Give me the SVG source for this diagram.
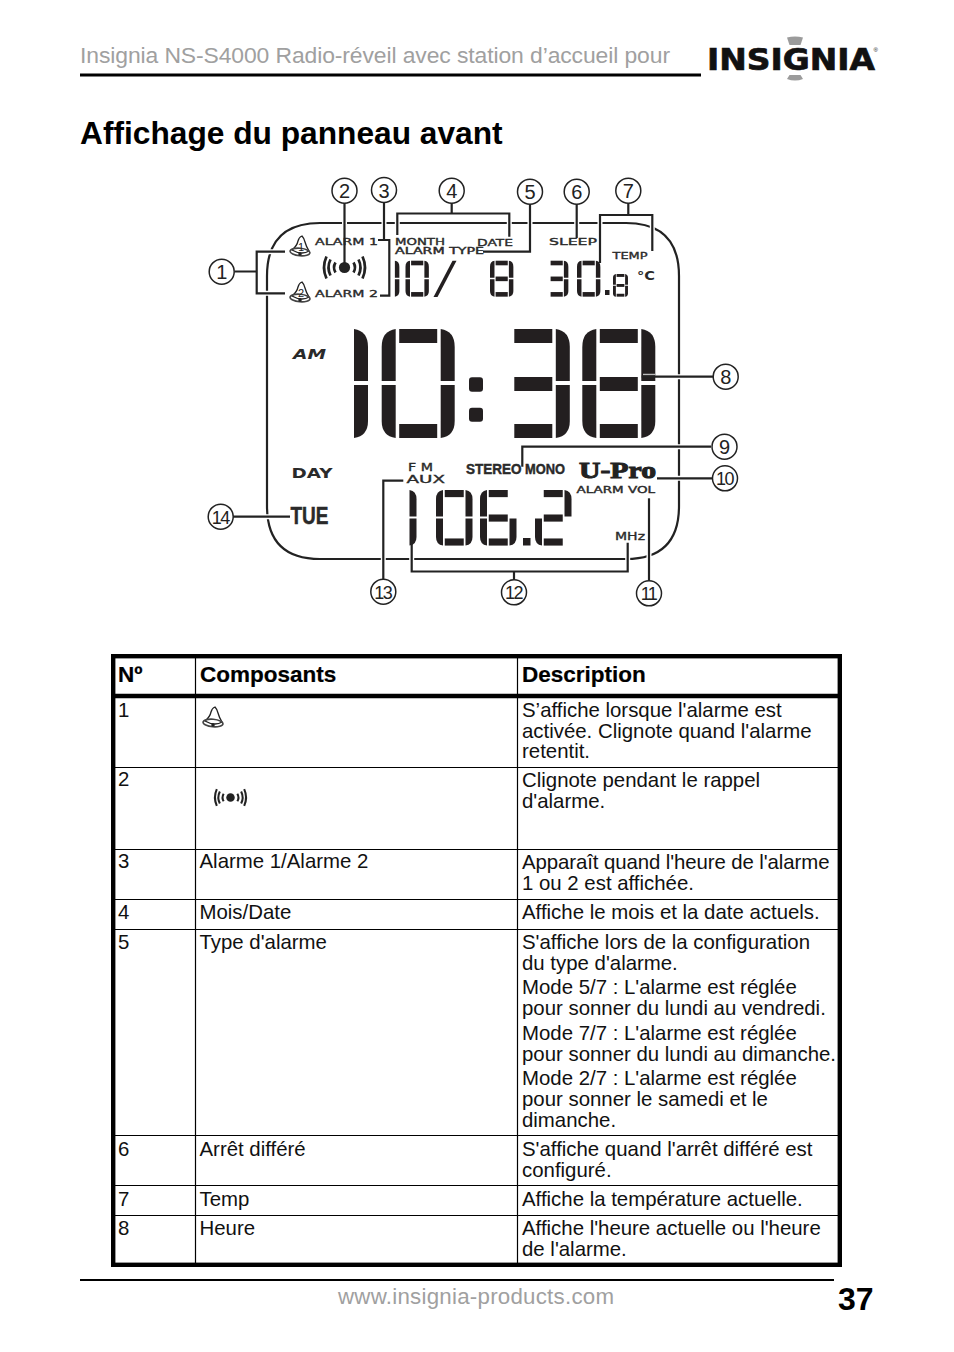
<svg xmlns="http://www.w3.org/2000/svg" width="954" height="1352" viewBox="0 0 954 1352">
<style>
text{font-family:"Liberation Sans",Arial,sans-serif;fill:#111}
.t{font-size:20.4px}
.b{font-size:22.5px;font-weight:bold;fill:#000;stroke:#000;stroke-width:.2}
.n{font-size:20px;text-anchor:middle;fill:#222}
.nn{font-size:18px;text-anchor:middle;fill:#222;letter-spacing:-1.5px}
.c{fill:#fff;stroke:#222;stroke-width:1.5}
.l{font-family:"DejaVu Sans",sans-serif;fill:#2a2a2a;stroke:#2a2a2a;stroke-width:.35}
.h{font-family:"DejaVu Sans",sans-serif;font-weight:bold;fill:#2a2a2a}
.k{font-family:"Liberation Sans Narrow","Liberation Sans",sans-serif;font-weight:bold;fill:#2a2a2a;stroke:#2a2a2a;stroke-width:.45}
.gl{fill:none;stroke:#222;stroke-width:2.2}
.case{fill:none;stroke:#fff;stroke-width:5}
.rule{stroke:#000;stroke-width:1.2}
.thick{stroke:#000;stroke-width:4.4;fill:none}
.seg{fill:#231f20}
</style>
<defs>
<g id="ul"><path class="seg" d="M14 0Q0 2 0 18V52H14Z"/></g>
<g id="ll"><path class="seg" d="M14 56H0V92Q0 107 14 109Z"/></g>
<g id="ur"><path class="seg" d="M59 0Q73 2 73 18V52H59Z"/></g>
<g id="lr"><path class="seg" d="M59 56H73V92Q73 107 59 109Z"/></g>
<g id="st"><path class="seg" d="M17.5 0H55.5V14H17.5Z"/></g>
<g id="sm"><path class="seg" d="M17.5 48H55.5V62H17.5Z"/></g>
<g id="sb"><path class="seg" d="M17.5 95H55.5V109H17.5Z"/></g>
<g id="d1"><use href="#ur"/><use href="#lr"/></g>
<g id="d0"><use href="#ul"/><use href="#ll"/><use href="#ur"/><use href="#lr"/><use href="#st"/><use href="#sb"/></g>
<g id="d8"><use href="#d0"/><use href="#sm"/></g>
<g id="d3"><use href="#d1"/><use href="#st"/><use href="#sm"/><use href="#sb"/></g>
<g id="d6"><use href="#ul"/><use href="#ll"/><use href="#lr"/><use href="#st"/><use href="#sm"/><use href="#sb"/></g>
<g id="d2"><use href="#ur"/><use href="#ll"/><use href="#st"/><use href="#sm"/><use href="#sb"/></g>
<g id="bell">
<path d="M13 1Q10 2 9 6Q8 11 3 15Q8 18 13 18Q17 18 20 16Q17 11 16 7Q15 3 13 1Z" fill="#fff" stroke="#222" stroke-width="1.3"/>
<ellipse cx="11" cy="17" rx="10" ry="3.800" fill="none" stroke="#444" stroke-width="1.6" transform="rotate(5 11 17)"/>
<circle cx="11" cy="19" r="1.800" fill="#222"/>
</g>
<g id="sound" fill="none" stroke="#222" stroke-width="2.7">
<circle r="5.600" fill="#222" stroke="none"/>
<path d="M-9-5Q-12 0-9 5M-14-8Q-18 0-14 8M-18-11Q-23 0-18 11M9-5Q12 0 9 5M14-8Q18 0 14 8M18-11Q23 0 18 11"/>
</g>
<g id="leaders">
<path d="M234.500 271.500H256.700M285 251.700H256.700V293.300H285"/>
<path d="M344.500 203V267"/>
<path d="M384 202.500V240M378 240H389.300V295.700H380"/>
<path d="M451.700 203V213.500M397.300 235V213.500H509.300V236.700"/>
<path d="M530 204V251.700H483"/>
<path d="M576.700 204V238"/>
<path d="M628.300 203V215M600 263V215H652.300V251"/>
<path d="M713 376.700H641.700"/>
<path d="M711 446.700H522.300V466.700"/>
<path d="M712 478.300H657"/>
<path d="M649 581V498.300"/>
<path d="M514 580V571.500M411.700 539.300V571.500H627.700V542.700"/>
<path d="M383.300 579V480.700H403.300"/>
<path d="M233 516.700H290"/>
</g>
</defs>
<rect width="954" height="1352" fill="#fff"/>

<g id="header">
<text x="80" y="63" style="font-size:22.900px;fill:#a0a0a0" textLength="590">Insignia NS-S4000 Radio-réveil avec station d’accueil pour</text>
<path d="M80 75H701" stroke="#000" stroke-width="3"/>
</g>
<g id="logo">
<path d="M787 37.500Q795 35.500 803 37.500L800.500 45H789.500Z" fill="#9b9b9b"/>
<path d="M789.500 75H800.500L803 79Q795 82 787 79Z" fill="#9b9b9b"/>
<text x="707" y="70" style="font-family:'DejaVu Sans',sans-serif;font-size:30.500px;font-weight:bold;fill:#111;stroke:#111;stroke-width:.7" textLength="168" lengthAdjust="spacingAndGlyphs">INSIGNIA</text>
<text x="873.500" y="52" style="font-size:6px;fill:#111">®</text>
</g>
<text id="title" x="80" y="144" style="font-size:31.700px;font-weight:bold;fill:#000">Affichage du panneau avant</text>

<g id="display">
<path id="frame" class="gl" d="M320 223H626Q679 223 679 276V506Q679 559 626 559H320Q267 559 267 506V276Q267 223 320 223Z"/>
</g>
<g id="connectors-casing" class="case"><use href="#leaders"/></g>

<g id="digits">
<use href="#d1" transform="translate(295 329)"/>
<use href="#d0" transform="translate(381.700 329)"/>
<rect x="469" y="377.300" width="14" height="14.400" rx="3" fill="#231f20"/>
<rect x="469" y="407.700" width="14" height="14" rx="3" fill="#231f20"/>
<use href="#d3" transform="translate(496.800 329)"/>
<use href="#d8" transform="translate(582.300 329)"/>
<use href="#d1" transform="translate(376 260.700) scale(.32 .33)"/>
<use href="#d0" transform="translate(405.500 260.700) scale(.32 .33)"/>
<path d="M433.500 297H437.500L456.500 260.700H452.500Z" fill="#231f20"/>
<use href="#d8" transform="translate(490 260.700) scale(.32 .33)"/>
<use href="#d3" transform="translate(545 260.700) scale(.32 .33)"/>
<use href="#d0" transform="translate(577 260.700) scale(.32 .33)"/>
<rect x="605" y="290" width="4.500" height="5" fill="#231f20"/>
<use href="#d8" transform="translate(613 274) scale(.205 .208)"/>
<use href="#d1" transform="translate(380 490) scale(.5 .51)"/>
<use href="#d0" transform="translate(436 490) scale(.5 .51)"/>
<use href="#d6" transform="translate(480 490) scale(.5 .51)"/>
<rect x="523" y="538" width="7.500" height="7.500" fill="#231f20"/>
<use href="#d2" transform="translate(535 490) scale(.5 .51)"/>
<path d="M643 374.500H655" stroke="#bbb" stroke-width="1.500"/>
</g>

<g id="labels">
<use href="#bell" transform="translate(289 235)"/>
<text x="301" y="251" style="font-size:11px;fill:#222" text-anchor="middle">1</text>
<use href="#bell" transform="translate(289 281)"/>
<text x="301" y="297" style="font-size:11px;fill:#222" text-anchor="middle">2</text>
<use href="#sound" transform="translate(344.500 267.500)"/>
<text class="l" x="315" y="245" style="font-size:9.500px" textLength="63" lengthAdjust="spacingAndGlyphs">ALARM 1</text>
<text class="l" x="315" y="297" style="font-size:9.500px" textLength="63" lengthAdjust="spacingAndGlyphs">ALARM 2</text>
<text class="l" x="395" y="245" style="font-size:9px" textLength="50" lengthAdjust="spacingAndGlyphs">MONTH</text>
<text class="l" x="395" y="253.500" style="font-size:8px" textLength="89" lengthAdjust="spacingAndGlyphs">ALARM  TYPE</text>
<text class="l" x="477" y="245.500" style="font-size:9.500px" textLength="36" lengthAdjust="spacingAndGlyphs">DATE</text>
<text class="l" x="549" y="245" style="font-size:9.500px" textLength="48" lengthAdjust="spacingAndGlyphs">SLEEP</text>
<text class="l" x="612.500" y="258.500" style="font-size:9.500px" textLength="35" lengthAdjust="spacingAndGlyphs">TEMP</text>
<text class="h" x="637" y="280" style="font-size:13px" textLength="18" lengthAdjust="spacingAndGlyphs">°C</text>
<text class="h" x="293" y="359" style="font-size:14px;font-style:italic" textLength="33" lengthAdjust="spacingAndGlyphs">AM</text>
<text class="h" x="291.500" y="477.500" style="font-size:14px" textLength="41" lengthAdjust="spacingAndGlyphs">DAY</text>
<text class="k" x="290.500" y="524" style="font-size:24px" textLength="38" lengthAdjust="spacingAndGlyphs">TUE</text>
<text class="l" x="408" y="471" style="font-size:10.500px" textLength="25" lengthAdjust="spacingAndGlyphs">F M</text>
<text class="l" x="406.500" y="483" style="font-size:11px" textLength="38.500" lengthAdjust="spacingAndGlyphs">AUX</text>
<text class="k" x="466" y="473.500" style="font-size:14.500px" textLength="55.500" lengthAdjust="spacingAndGlyphs">STEREO</text>
<text class="k" x="525" y="473.500" style="font-size:14.500px" textLength="40" lengthAdjust="spacingAndGlyphs">MONO</text>
<text x="579" y="478" style="font-family:'Liberation Serif',serif;font-weight:bold;font-size:23.500px;fill:#222;stroke:#222;stroke-width:1" textLength="77" lengthAdjust="spacingAndGlyphs">U-Pro</text>
<text class="l" x="576.500" y="492.500" style="font-size:8.500px" textLength="78.500" lengthAdjust="spacingAndGlyphs">ALARM VOL</text>
<text class="l" x="615" y="540" style="font-size:11px" textLength="30" lengthAdjust="spacingAndGlyphs">MHz</text>
</g>

<g id="connectors" class="gl"><use href="#leaders"/></g>

<g id="c1"><circle class="c" cx="221.700" cy="271.700" r="12.500"/><text class="n" x="221.700" y="279">1</text></g>
<g id="c2"><circle class="c" cx="344.500" cy="190.700" r="12.500"/><text class="n" x="344.500" y="198">2</text></g>
<g id="c3"><circle class="c" cx="384" cy="190" r="12.500"/><text class="n" x="384" y="197.500">3</text></g>
<g id="c4"><circle class="c" cx="451.700" cy="190.700" r="12.500"/><text class="n" x="451.700" y="198">4</text></g>
<g id="c5"><circle class="c" cx="530" cy="191.700" r="12.500"/><text class="n" x="530" y="199">5</text></g>
<g id="c6"><circle class="c" cx="576.700" cy="191.700" r="12.500"/><text class="n" x="576.700" y="199">6</text></g>
<g id="c7"><circle class="c" cx="628.300" cy="190.700" r="12.500"/><text class="n" x="628.300" y="198">7</text></g>
<g id="c8"><circle class="c" cx="725.700" cy="376.700" r="12.500"/><text class="n" x="725.700" y="384">8</text></g>
<g id="c9"><circle class="c" cx="724.500" cy="446.700" r="12.500"/><text class="n" x="724.500" y="454">9</text></g>
<g id="c10"><circle class="c" cx="725" cy="478.300" r="12.500"/><text class="nn" x="724.500" y="485">10</text></g>
<g id="c11"><circle class="c" cx="649" cy="593.300" r="12.500"/><text class="nn" x="648.500" y="600">11</text></g>
<g id="c12"><circle class="c" cx="514" cy="592.300" r="12.500"/><text class="nn" x="513.500" y="599">12</text></g>
<g id="c13"><circle class="c" cx="383.300" cy="591.700" r="12.500"/><text class="nn" x="382.800" y="598.500">13</text></g>
<g id="c14"><circle class="c" cx="220.700" cy="516.700" r="12.500"/><text class="nn" x="220.200" y="523.500">14</text></g>

<g id="table">
<g class="rule">
<path d="M195.500 656V1265M517.500 656V1265M113 767.500H840M113 849.500H840M113 899.500H840M113 929.500H840M113 1135.500H840M113 1185.500H840M113 1215.500H840"/>
</g>
<rect x="113.200" y="656.200" width="726.600" height="608.600" class="thick"/>
<path d="M113 696H840" class="thick"/>
<text class="b" x="118" y="682">Nº</text><text class="b" x="200" y="682">Composants</text><text class="b" x="522" y="682">Description</text>
<g class="t">
<text class="t" x="118" y="717">1</text>
<text class="t" x="522" y="717">S’affiche lorsque l'alarme est</text>
<text class="t" x="522" y="738">activée. Clignote quand l'alarme</text>
<text class="t" x="522" y="758">retentit.</text>
<text class="t" x="118" y="786">2</text>
<text class="t" x="522" y="787">Clignote pendant le rappel</text>
<text class="t" x="522" y="808">d'alarme.</text>
<text class="t" x="118" y="868">3</text><text class="t" x="199.500" y="868">Alarme 1/Alarme 2</text>
<text class="t" x="522" y="869" textLength="307.500">Apparaît quand l'heure de l'alarme</text>
<text class="t" x="522" y="890">1 ou 2 est affichée.</text>
<text class="t" x="118" y="919">4</text><text class="t" x="199.500" y="919">Mois/Date</text>
<text class="t" x="522" y="919">Affiche le mois et la date actuels.</text>
<text class="t" x="118" y="949">5</text><text class="t" x="199.500" y="949">Type d'alarme</text>
<text class="t" x="522" y="949">S'affiche lors de la configuration</text>
<text class="t" x="522" y="970">du type d'alarme.</text>
<text class="t" x="522" y="994">Mode 5/7 : L'alarme est réglée</text>
<text class="t" x="522" y="1015">pour sonner du lundi au vendredi.</text>
<text class="t" x="522" y="1040">Mode 7/7 : L'alarme est réglée</text>
<text class="t" x="522" y="1061">pour sonner du lundi au dimanche.</text>
<text class="t" x="522" y="1085">Mode 2/7 : L'alarme est réglée</text>
<text class="t" x="522" y="1106">pour sonner le samedi et le</text>
<text class="t" x="522" y="1127">dimanche.</text>
<text class="t" x="118" y="1156">6</text><text class="t" x="199.500" y="1156">Arrêt différé</text>
<text class="t" x="522" y="1156">S'affiche quand l'arrêt différé est</text>
<text class="t" x="522" y="1177">configuré.</text>
<text class="t" x="118" y="1206">7</text><text class="t" x="199.500" y="1206">Temp</text>
<text class="t" x="522" y="1206">Affiche la température actuelle.</text>
<text class="t" x="118" y="1235">8</text><text class="t" x="199.500" y="1235">Heure</text>
<text class="t" x="522" y="1235">Affiche l'heure actuelle ou l'heure</text>
<text class="t" x="522" y="1256">de l'alarme.</text>
</g>
<use href="#bell" transform="translate(202 706)"/>
<use href="#sound" transform="translate(230.500 797.500) scale(.76)"/>
</g>

<g id="footer">
<path d="M80 1280H834" stroke="#000" stroke-width="2"/>
<text x="338" y="1304" style="font-size:22.300px;fill:#a0a0a0" textLength="276">www.insignia-products.com</text>
<text x="838" y="1310" style="font-size:32px;font-weight:bold;fill:#000">37</text>
</g>
</svg>
